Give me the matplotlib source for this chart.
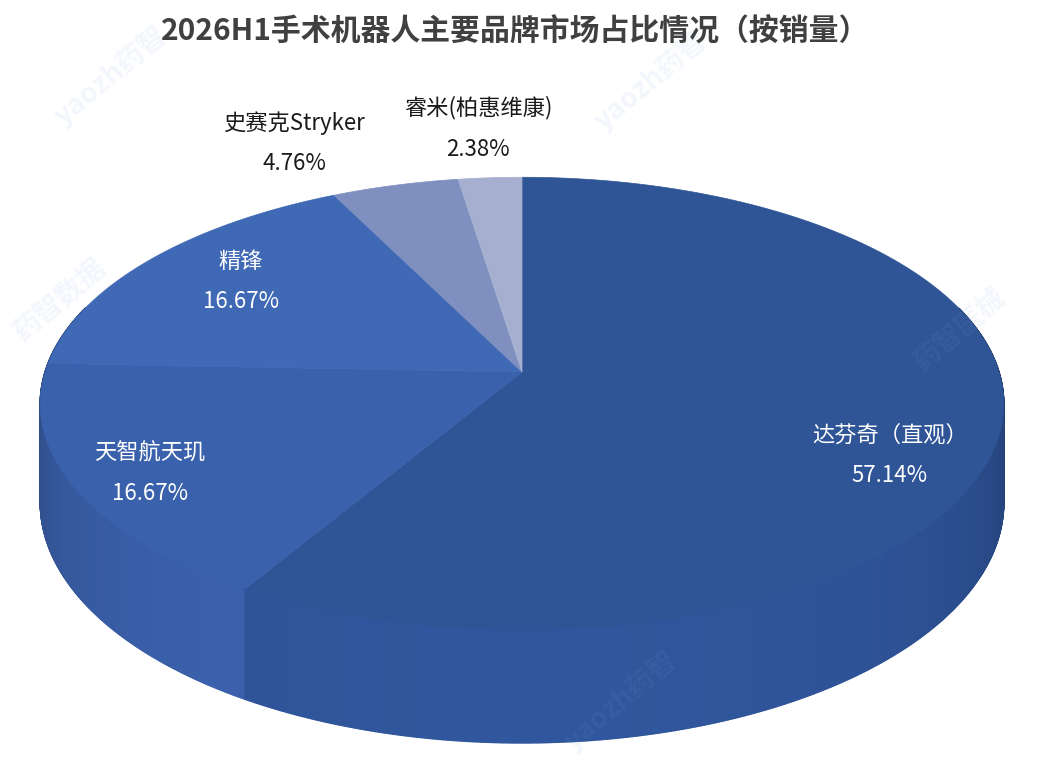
import numpy as np
import matplotlib
matplotlib.use("Agg")
from matplotlib import pyplot as plt
from matplotlib.collections import PolyCollection
from matplotlib.colors import to_rgb

plt.rcParams['font.family'] = ['Noto Sans CJK SC', 'DejaVu Sans']

# data, clockwise from 12 o'clock
brands = ['达芬奇（直观）', '天智航天玑', '精锋', '史赛克Stryker', '睿米(柏惠维康)']
shares = [57.14, 16.67, 16.67, 4.76, 2.38]
pct_labels = ['57.14%', '16.67%', '16.67%', '4.76%', '2.38%']
title = '2026H1手术机器人主要品牌市场占比情况（按销量）'

top_colors = ['#2F5597', '#3A61AC', '#3F68B5', '#7F8FC0', '#A6AFD0']
side_colors = ['#30569D', '#3D64B2', '#4169B6', '#8090C0', '#A6AFD0']

# label centres (pixel coords) and colours
label_pos = [(890, 455), (150, 473), (241, 281), (294, 143), (478, 128)]
label_col = ['white', 'white', 'white', '#1a1a1a', '#1a1a1a']

# 3d view of the disc (pixels)
CX, CY = 522, 372      # centre of the pie on screen
R, RS = 477, 222       # horizontal / vertical radius
K = 0.14               # perspective strength
H = 97                 # thickness


def project(a, z):
    # a: angle clockwise from the top, z: 0 top face, 1 bottom face
    X = np.sin(a)
    Y = -np.cos(a)
    w = 1 - K * Y
    return CX + R * X / w, CY + (RS * Y + H * z) / w


fig = plt.figure(figsize=(10.45, 7.63), dpi=100)
ax = fig.add_axes([0, 0, 1, 1])
ax.set_xlim(0, 1045)
ax.set_ylim(763, 0)
ax.axis('off')

# faint watermarks
for (wx, wy, txt) in [(110, 75, 'yaozh药智'), (650, 80, 'yaozh药智'),
                      (60, 300, '药智数据'), (960, 330, '药智医械'),
                      (620, 700, 'yaozh药智')]:
    ax.text(wx, wy, txt, fontsize=20, color='#7a9ee0', alpha=0.09,
            rotation=40, ha='center', va='center', fontweight='bold')

edges = np.cumsum([0] + shares) / sum(shares) * 2 * np.pi

# outer walls
quads, cols, depth = [], [], []
for i in range(len(shares)):
    t = np.linspace(edges[i], edges[i + 1], max(int(shares[i] * 14), 10))
    base = np.array(to_rgb(side_colors[i]))
    for a0, a1 in zip(t[:-1], t[1:]):
        am = 0.5 * (a0 + a1)
        Y = -np.cos(am)
        if Y < -0.3:
            continue
        shade = 0.55 + 0.45 * max(Y, 0) ** 0.4
        x0t, y0t = project(a0, 0)
        x1t, y1t = project(a1, 0)
        x1b, y1b = project(a1, 1)
        x0b, y0b = project(a0, 1)
        quads.append([(x0t, y0t), (x1t, y1t), (x1b, y1b), (x0b, y0b)])
        cols.append(np.clip(base * shade, 0, 1))
        depth.append(Y)
order = np.argsort(depth)
ax.add_collection(PolyCollection([quads[j] for j in order],
                                 facecolors=[cols[j] for j in order],
                                 edgecolors=[cols[j] for j in order],
                                 linewidths=1.0))

# top faces
for i in range(len(shares)):
    t = np.linspace(edges[i], edges[i + 1], max(int(shares[i] * 6), 8))
    xs, ys = project(t, 0)
    pts = [(CX, CY)] + list(zip(xs, ys))
    ax.add_patch(plt.Polygon(pts, closed=True, facecolor=top_colors[i],
                             edgecolor=top_colors[i], linewidth=0.5))

# labels
for i in range(len(shares)):
    lx, ly = label_pos[i]
    ax.text(lx, ly - 20, brands[i], fontsize=16, color=label_col[i],
            ha='center', va='center')
    ax.text(lx, ly + 21, pct_labels[i], fontsize=16, color=label_col[i],
            ha='center', va='center')

ax.text(515, 32, title, fontsize=21.5, fontweight='bold', color='#404040',
        ha='center', va='center')

fig.savefig('out.png', dpi=100)
